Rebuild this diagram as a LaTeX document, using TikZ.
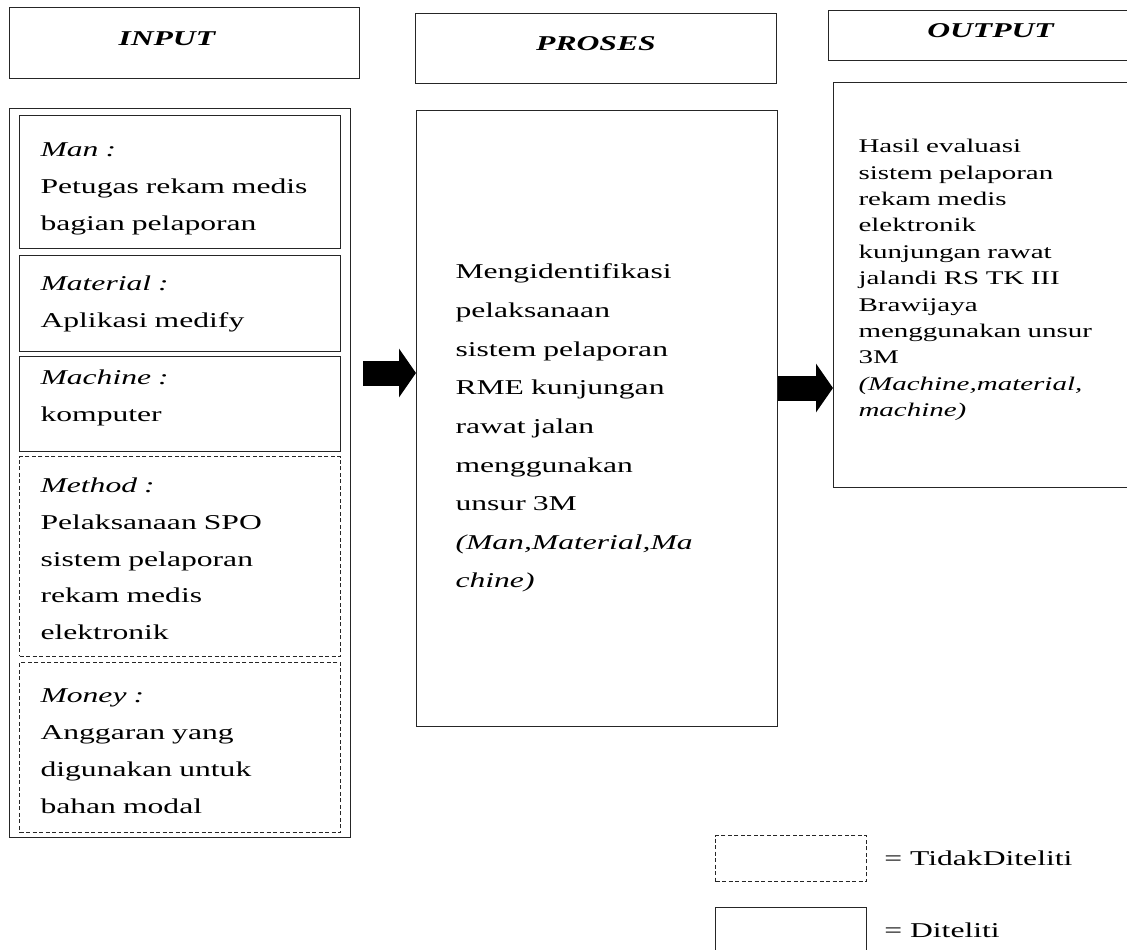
\documentclass[tikz,border=0pt]{standalone}
\usepackage{fontspec}
\setmainfont[FakeStretch=1.5]{Liberation Serif}
\usetikzlibrary{arrows.meta,positioning}
\tikzset{
	box/.style={draw=black!85, line width=0.6pt, anchor=north west, inner xsep=0.42cm, inner ysep=0pt, text width=5.58cm, align=left, font=\fontsize{12}{21}\selectfont},
	notbox/.style={box, dash pattern=on 2.3pt off 1.4pt},
	head/.style={draw=black!85, line width=0.6pt, anchor=north west, inner sep=0pt, align=center, font=\fontsize{12}{14}\selectfont\bfseries\itshape},
	blockarr/.style={line width=0.5cm, -{Triangle[length=0.34cm, width=0.96cm]}}
}
\newcommand{\lift}[1]{\rule[-#1]{0pt}{0pt}}
\newcommand{\drop}[1]{\rule{0pt}{#1}}
\begin{document}
\begin{tikzpicture}[x=0.02cm, y=-0.02cm]
			\useasboundingbox (0,0) rectangle (1127,950);

			\node[head, minimum height=1.42cm, text width=2.64cm, inner xsep=2.18cm, align=left] (inhead) at (9,7) {INPUT\lift{4.5pt}};
			\node[head, minimum width=7.22cm, minimum height=1.4cm] (proshead) at (415,13) {PROSES\lift{5.5pt}};
			\node[head, minimum width=6.48cm, minimum height=1cm] (outhead) at (828,10) {OUTPUT\lift{5.5pt}};

			\node[draw=black!85, line width=0.6pt, anchor=north west, minimum width=6.82cm, minimum height=14.58cm] (inbox) at (9,108) {};
				\node[box, minimum height=2.66cm] (man) at (19,115) {\drop{16pt}\textit{Man :}\\ Petugas rekam medis\\ bagian pelaporan};
				\node[box, minimum height=1.92cm] (material) at (19,255) {\textit{Material :}\\ Aplikasi medify};
				\node[box, minimum height=1.9cm] (machine) at (19,356) {\textit{Machine :}\\ komputer\lift{9pt}};
				\node[notbox, minimum height=4cm] (method) at (19,456) {\drop{11pt}\textit{Method :}\\ Pelaksanaan SPO\\ sistem pelaporan\\ rekam medis\\ elektronik};
				\node[notbox, minimum height=3.4cm] (money) at (19,662) {\drop{12pt}\textit{Money :}\\ Anggaran yang\\ digunakan untuk\\ bahan modal};

			\node[box, text width=5.66cm, inner xsep=0.78cm, minimum height=12.32cm, font=\fontsize{12}{22}\selectfont] (proses) at (416,110) {\drop{19.5pt}Mengidentifikasi\\ pelaksanaan\\ sistem pelaporan\\ RME kunjungan\\ rawat jalan\\ menggunakan\\ unsur 3M\\ \textit{(Man,Material,Ma}\\ \textit{chine)}};

			\node[box, text width=5.38cm, inner xsep=0.5cm, minimum height=8.1cm, font=\fontsize{11}{15}\selectfont] (output) at (833,82) {Hasil evaluasi\\ sistem pelaporan\\ rekam medis\\ elektronik\\ kunjungan rawat\\ jalandi RS TK III\\ Brawijaya\\ menggunakan unsur\\ 3M\\ \textit{(Machine,material,}\\ \textit{machine)}\lift{8pt}};

			\coordinate (a1) at (363,373);
			\coordinate (a2) at (0,388);
			\draw[blockarr] (a1) -- (proses.west |- a1);
			\draw[blockarr] (proses.east |- a2) -- (output.west |- a2);

			\node[notbox, text width=, minimum width=3.02cm, minimum height=0.92cm] (tidak) at (715,835) {};
				\node[right=0.34cm of tidak, inner sep=0pt, font=\fontsize{12}{14}\selectfont] (tidaklbl) {= TidakDiteliti};
			\node[box, text width=, minimum width=3.02cm, minimum height=0.92cm] (diteliti) at (715,907) {};
				\node[right=0.34cm of diteliti, inner sep=0pt, font=\fontsize{12}{14}\selectfont] (ditelitilbl) {= Diteliti};
\end{tikzpicture}
\end{document}
